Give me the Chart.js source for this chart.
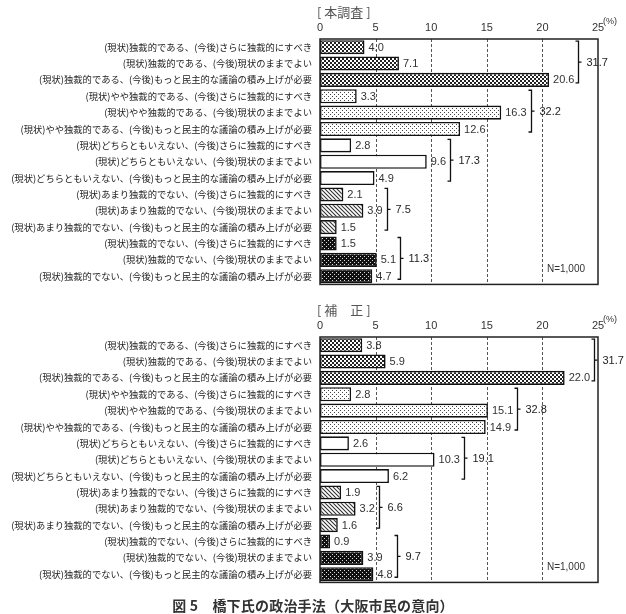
<!DOCTYPE html>
<html><head><meta charset="utf-8">
<script src="https://cdn.jsdelivr.net/npm/chart.js@4"></script>
<style>
html,body{margin:0;padding:0;background:#fff;width:626px;height:614px;overflow:hidden;}
canvas{position:absolute;left:0;}
#c1{top:0;} #c2{top:298px;}
#title{position:absolute;left:0;width:626px;top:595px;text-align:center;font:bold 14px "Noto Sans CJK JP";color:#333;letter-spacing:0.2px;}
</style></head>
<body>
<canvas id="c1" width="626" height="298"></canvas>
<canvas id="c2" width="626" height="298"></canvas>
<div id="title">図 5　橋下氏の政治手法（大阪市民の意向）</div>
<script>
const categories = [
 "(現状)独裁的である、(今後)さらに独裁的にすべき",
 "(現状)独裁的である、(今後)現状のままでよい",
 "(現状)独裁的である、(今後)もっと民主的な議論の積み上げが必要",
 "(現状)やや独裁的である、(今後)さらに独裁的にすべき",
 "(現状)やや独裁的である、(今後)現状のままでよい",
 "(現状)やや独裁的である、(今後)もっと民主的な議論の積み上げが必要",
 "(現状)どちらともいえない、(今後)さらに独裁的にすべき",
 "(現状)どちらともいえない、(今後)現状のままでよい",
 "(現状)どちらともいえない、(今後)もっと民主的な議論の積み上げが必要",
 "(現状)あまり独裁的でない、(今後)さらに独裁的にすべき",
 "(現状)あまり独裁的でない、(今後)現状のままでよい",
 "(現状)あまり独裁的でない、(今後)もっと民主的な議論の積み上げが必要",
 "(現状)独裁的でない、(今後)さらに独裁的にすべき",
 "(現状)独裁的でない、(今後)現状のままでよい",
 "(現状)独裁的でない、(今後)もっと民主的な議論の積み上げが必要"
];
const mainValues = [4.0, 7.1, 20.6, 3.3, 16.3, 12.6, 2.8, 9.6, 4.9, 2.1, 3.9, 1.5, 1.5, 5.1, 4.7];
const mainTotals = ["31.7", "32.2", "17.3", "7.5", "11.3"];
const adjValues = [3.8, 5.9, 22.0, 2.8, 15.1, 14.9, 2.6, 10.3, 6.2, 1.9, 3.2, 1.6, 0.9, 3.9, 4.8];
const adjTotals = ["31.7", "32.8", "19.1", "6.6", "9.7"];
const xTicks = [0, 5, 10, 15, 20, 25];
const mainHeading = "[ 本調査 ]";
const adjHeading = "[ 補　正 ]";
const sampleNote = "N=1,000";
const unitLabel = "(%)";

function tile(draw){
  const c = document.createElement('canvas'); c.width = 4; c.height = 4;
  const g = c.getContext('2d'); draw(g); return c;
}
const tiles = [
  tile(g=>{g.fillStyle='#fff';g.fillRect(0,0,4,4);g.fillStyle='#222';g.fillRect(0,0,2,2);g.fillRect(2,2,2,2);}),
  tile(g=>{g.fillStyle='#fff';g.fillRect(0,0,4,4);g.fillStyle='#444';g.fillRect(0,0,1,1);g.fillRect(2,2,1,1);}),
  tile(g=>{g.fillStyle='#fff';g.fillRect(0,0,4,4);}),
  tile(g=>{g.fillStyle='#fff';g.fillRect(0,0,4,4);g.strokeStyle='#333';g.lineWidth=1.1;
     g.beginPath();g.moveTo(-1,-1);g.lineTo(5,5);g.moveTo(-1,3);g.lineTo(1,5);g.moveTo(3,-1);g.lineTo(5,1);g.stroke();}),
  tile(g=>{g.fillStyle='#111';g.fillRect(0,0,4,4);g.fillStyle='#ddd';g.fillRect(0,0,1,1);g.fillRect(2,2,1,1);})
];

const annot = {
  id: 'annot',
  beforeDatasetsDraw(chart){
    const {ctx, chartArea:a, scales:{x}} = chart;
    ctx.save();
    ctx.strokeStyle = '#555'; ctx.lineWidth = 1; ctx.setLineDash([3,2]);
    xTicks.slice(1, -1).forEach(v=>{
      const px = Math.round(x.getPixelForValue(v)) + 0.5;
      ctx.beginPath(); ctx.moveTo(px, a.top); ctx.lineTo(px, a.bottom); ctx.stroke();
    });
    ctx.restore();
  },
  afterDatasetsDraw(chart, args, opts){
    const {ctx, chartArea:a, scales:{x}} = chart;
    const meta = chart.getDatasetMeta(0);
    const vals = chart.data.datasets[0].data;
    ctx.save();
    ctx.setLineDash([]);
    ctx.strokeStyle = '#222'; ctx.lineWidth = 1.5;
    ctx.strokeRect(a.left, a.top, a.right - a.left, a.bottom - a.top);
    // value labels
    ctx.font = '11px "Liberation Sans", Arial, sans-serif';
    ctx.fillStyle = '#333'; ctx.textBaseline = 'middle'; ctx.textAlign = 'left';
    const ends = [];
    meta.data.forEach((el, i)=>{
      const t = vals[i].toFixed(1);
      const tx = el.x + 4;
      ctx.fillText(t, tx, el.y + 0.5);
      ends.push(tx + ctx.measureText(t).width);
    });
    // brackets
    ctx.strokeStyle = '#111'; ctx.lineWidth = 1.3;
    opts.totals.forEach((tot, g)=>{
      const i0 = g*3, i2 = g*3+2;
      const bx = Math.round(Math.max(ends[i0], ends[i0+1], ends[i2]) + 4) + 0.5;
      const yt = meta.data[i0].y - 6, yb = meta.data[i2].y + 3, ym = (yt + yb)/2;
      ctx.beginPath();
      ctx.moveTo(bx - 3, yt); ctx.lineTo(bx, yt); ctx.lineTo(bx, yb); ctx.lineTo(bx - 3, yb);
      ctx.moveTo(bx, ym); ctx.lineTo(bx + 3, ym);
      ctx.stroke();
      ctx.fillStyle = '#222';
      ctx.fillText(tot, bx + 8, ym + 0.5);
    });
    // N note
    ctx.font = '10px "Liberation Sans", Arial, sans-serif';
    ctx.fillStyle = '#333'; ctx.textAlign = 'right';
    ctx.fillText(sampleNote, a.right - 13, a.bottom - 15);
    // unit
    ctx.font = '9px "Liberation Sans", Arial, sans-serif';
    ctx.textAlign = 'left';
    ctx.fillText(unitLabel, x.getPixelForValue(xTicks[xTicks.length-1]) + 5, a.top - 17);
    // heading
    ctx.font = '13px "Noto Sans CJK JP"';
    ctx.fillStyle = '#555';
    ctx.fillText(opts.heading, a.left - 3, 12);
    ctx.restore();
  }
};

function makeChart(id, values, totals, heading, padBottom){
  const canvas = document.getElementById(id);
  const cctx = canvas.getContext('2d');
  const pats = tiles.map(t => cctx.createPattern(t, 'repeat'));
  return new Chart(canvas, {
    type: 'bar',
    data: {
      labels: categories,
      datasets: [{
        data: values,
        backgroundColor: c => pats[Math.floor(c.dataIndex / 3)],
        borderColor: '#111',
        borderWidth: 1.6,
        borderSkipped: false,
        barPercentage: 0.86,
        categoryPercentage: 1.0
      }]
    },
    options: {
      indexAxis: 'y',
      responsive: false,
      animation: false,
      devicePixelRatio: 1,
      layout: { padding: { left: 0, right: 28, top: 0, bottom: padBottom } },
      plugins: {
        legend: { display: false },
        tooltip: { enabled: false },
        annot: { totals: totals, heading: heading }
      },
      scales: {
        x: {
          position: 'top', min: 0, max: 25,
          afterBuildTicks: s => { s.ticks = xTicks.map(v => ({ value: v })); },
          afterFit: s => { s.height = 39; },
          grid: { display: false, drawTicks: false },
          border: { display: false },
          ticks: { padding: 4, color: '#333', font: { family: '"Liberation Sans", Arial, sans-serif', size: 11 } }
        },
        y: {
          afterFit: s => { s.width = 320; },
          grid: { display: false, drawTicks: false },
          border: { display: false },
          ticks: { padding: 8, autoSkip: false, color: '#222', font: { family: '"Noto Sans CJK JP"', size: 9.3 } }
        }
      }
    },
    plugins: [annot]
  });
}
makeChart('c1', mainValues, mainTotals, mainHeading, 7);
makeChart('c2', adjValues, adjTotals, adjHeading, 5);
</script>
</body></html>
